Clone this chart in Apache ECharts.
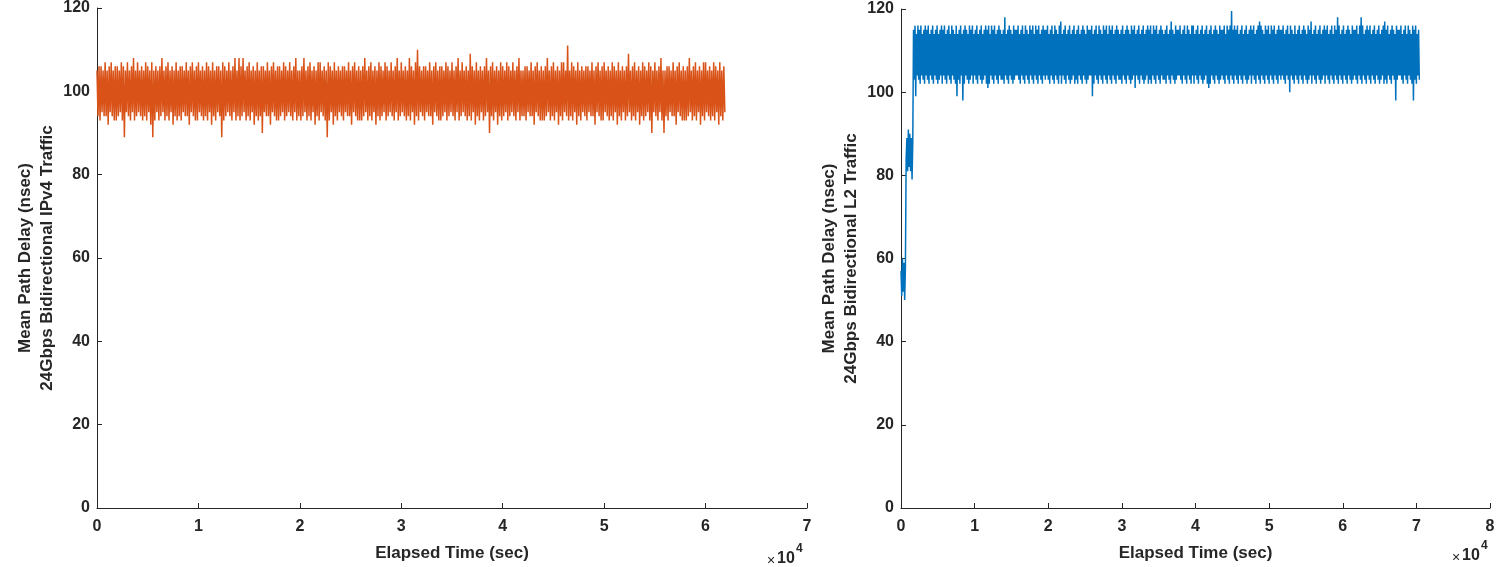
<!DOCTYPE html>
<html><head><meta charset="utf-8">
<script src="https://cdn.jsdelivr.net/npm/echarts@6/dist/echarts.min.js"></script>
<style>html,body{margin:0;padding:0;background:#fff}#c{width:1502px;height:567px}</style>
</head><body><div id="c"></div>
<script>
// sample spacing of the recorded delay measurements (seconds)
const sampleIntervalSec = 100;

// Left panel: 24Gbps bidirectional IPv4 traffic, mean path delay (nsec)
const ipv4Delay = [
105,94,106,93,106,95,105,94,107,94,105,92,106,95,107,94,105,93,106,93,
106,94,105,95,107,93,106,89,105,95,107,94,105,93,106,95,108,93,105,94,
107,95,105,94,106,93,105,94,107,93,106,95,105,92,107,89,105,93,106,95,
105,93,106,94,108,95,105,93,106,94,107,93,105,95,106,92,105,94,107,93,
105,94,106,93,106,95,105,94,107,94,105,92,106,95,107,94,105,93,106,93,
107,95,105,94,106,93,105,94,107,93,106,95,105,92,107,94,105,93,106,95,
106,94,105,89,107,93,106,94,105,95,107,94,105,93,106,95,108,93,105,94,
108,93,106,94,108,95,105,93,106,94,107,93,105,95,106,92,105,94,107,93,
105,94,106,90,106,95,105,94,107,94,105,92,106,95,107,94,105,93,106,93,
106,94,105,95,107,93,106,94,105,95,107,94,105,93,106,95,108,93,105,94,
105,93,106,94,108,95,105,93,106,94,107,93,105,95,106,92,105,94,107,93,
107,95,105,94,106,93,105,89,107,93,106,95,105,92,107,94,105,93,106,95,
105,94,106,93,106,95,105,94,107,94,105,92,106,95,107,94,105,93,106,93,
105,93,106,94,108,95,105,93,106,94,107,93,105,95,106,92,105,94,107,93,
106,94,105,95,107,93,106,94,105,95,107,94,105,93,106,95,108,93,105,94,
107,95,105,94,106,93,105,94,108,93,106,95,105,92,107,94,110,93,106,95,
105,94,106,93,106,95,105,94,107,94,105,92,106,95,107,94,105,93,106,93,
106,94,105,95,107,93,106,94,105,95,107,94,105,93,106,95,108,93,105,94,
107,95,105,94,106,93,105,94,109,93,106,95,105,92,107,94,105,93,106,95,
105,93,106,94,108,95,105,90,106,94,107,93,105,95,106,92,105,94,107,93,
106,94,105,95,107,93,106,94,105,95,107,94,105,93,106,95,108,93,105,94,
105,94,106,93,106,95,105,94,107,94,105,92,106,95,107,94,105,93,106,93,
105,93,106,94,108,95,105,93,106,94,107,93,105,95,106,92,105,94,107,93,
107,95,105,94,111,93,105,94,107,93,106,95,105,92,107,94,105,93,106,95,
105,94,106,93,106,95,105,94,107,94,105,92,106,95,107,94,105,93,106,93,
107,95,105,94,106,93,105,94,107,93,106,95,105,92,107,94,105,93,106,95,
105,93,106,94,109,95,105,93,106,94,107,93,105,95,106,92,105,94,107,93,
106,94,105,95,107,93,106,90,105,95,107,94,105,93,106,95,108,93,105,90,
105,94,106,93,106,95,105,94,107,94,105,92,106,95,107,94,105,93,106,93,
105,93,106,94,108,95,105,93,106,94,107,93,105,95,106,92,105,94,107,93,
107,95,105,94,106,93,105,94,107,93,106,95,105,92,107,94,105,93,106,95
];

// Right panel: 24Gbps bidirectional L2 traffic, mean path delay (nsec)
const l2Delay = [
57,51,60,52,59,50,58,
84,89,81,91,82,90,81,89,79,88,
115,103,116,99,114,104,116,103,115,102,116,104,114,103,115,102,116,104,115,103,
116,102,114,104,115,103,116,102,114,104,115,103,116,102,114,103,115,104,116,102,
115,104,116,103,114,102,115,104,116,103,114,102,116,104,115,103,114,102,116,99,
114,103,115,102,116,104,114,98,115,102,116,104,115,103,114,102,116,103,115,104,
116,102,114,104,115,103,116,102,114,104,115,103,116,102,114,103,115,104,116,102,
115,101,116,102,114,104,116,103,115,102,116,104,114,103,115,102,116,104,115,103,
114,103,115,102,118,104,114,103,115,102,116,104,115,103,114,102,116,103,115,104,
115,104,116,103,114,102,115,104,116,103,114,102,116,104,115,103,114,102,116,104,
115,103,116,102,114,104,116,103,115,102,116,104,114,103,115,102,116,104,115,103,
115,104,116,103,114,102,115,104,116,103,114,102,116,104,115,103,114,102,116,104,
117,102,114,104,115,103,116,102,114,104,115,103,116,102,114,103,115,104,116,102,
114,103,115,102,116,104,114,103,115,102,116,104,115,103,114,102,116,103,115,104,
115,104,116,99,114,102,115,104,116,103,114,102,116,104,115,103,114,102,116,104,
115,103,116,102,114,104,116,103,115,102,116,104,114,103,115,102,116,104,115,103,
114,103,115,102,116,104,114,103,115,102,116,104,115,103,114,102,116,103,115,104,
116,101,114,104,115,103,116,102,114,104,115,103,116,102,114,103,115,104,116,102,
115,103,116,102,114,104,116,103,115,102,116,104,114,103,115,102,116,104,115,103,
114,103,115,102,116,104,114,103,115,102,117,104,115,103,114,102,116,103,115,104,
115,104,116,103,114,102,115,104,116,103,114,102,116,104,115,103,114,102,116,104,
116,102,114,104,115,103,116,102,114,104,115,103,116,102,114,103,115,104,116,102,
114,101,115,102,116,104,114,103,115,102,116,104,115,103,114,102,116,103,115,104,
115,103,116,102,114,104,116,103,115,102,116,104,119.5,103,115,102,116,104,115,103,
116,102,114,104,115,103,116,102,114,104,115,103,116,102,114,103,115,104,116,102,
115,104,116,103,114,102,115,104,116,103,117,102,116,104,115,103,114,102,116,104,
115,103,116,102,114,104,116,103,115,102,116,104,114,103,115,102,116,104,115,103,
115,104,116,103,114,102,115,104,116,103,114,100,116,104,115,103,114,102,116,104,
114,103,115,102,116,104,114,103,115,102,116,104,115,103,114,102,116,103,115,104,
117,102,114,104,115,103,116,102,114,104,115,103,116,102,114,103,115,104,116,102,
115,104,116,103,114,102,115,104,116,103,114,102,116,104,115,103,118,102,116,104,
114,103,115,102,116,104,114,103,115,102,116,104,115,103,114,102,116,103,115,104,
115,103,116,102,114,104,116,103,118,102,116,104,114,103,115,102,116,104,115,103,
116,102,114,104,115,103,116,102,114,104,115,103,116,102,114,103,115,104,116,102,
117,103,115,102,116,104,114,103,115,102,116,104,115,103,114,98,116,103,115,104,
115,104,116,103,114,102,115,104,116,103,114,102,116,104,115,103,114,102,116,98,
115,103,116,102,114,104,115,103
];

const xAxisName = 'Elapsed Time (sec)';
const yNameLeft = 'Mean Path Delay (nsec)\n24Gbps Bidirectional IPv4 Traffic';
const yNameRight = 'Mean Path Delay (nsec)\n24Gbps Bidirectional L2 Traffic';
const xScale = 10000;

const toPairs = arr => arr.map((v, i) => [i * sampleIntervalSec, v]);

const FONT = '"Liberation Sans", Arial, Helvetica, sans-serif';
const AX = '#262626';

function xAxisCfg(idx, max) {
  return {
    type: 'value', gridIndex: idx, min: 0, max: max, interval: 10000,
    name: xAxisName, nameLocation: 'middle', nameGap: 37,
    nameTextStyle: {color: AX, fontSize: 17, fontWeight: 'bold', fontFamily: FONT},
    axisLine: {show: true, lineStyle: {color: AX, width: 1}},
    axisTick: {show: true, inside: true, length: 5, lineStyle: {color: AX}},
    axisLabel: {color: AX, fontSize: 16, fontWeight: 'bold', fontFamily: FONT, margin: 11,
      formatter: v => String(v / xScale)},
    splitLine: {show: false}
  };
}
function yAxisCfg(idx, name) {
  return {
    type: 'value', gridIndex: idx, min: 0, max: 120, interval: 20,
    name: name, nameLocation: 'middle', nameGap: 39, nameRotate: 90,
    nameTextStyle: {color: AX, fontSize: 17, fontWeight: 'bold', fontFamily: FONT, lineHeight: 22},
    axisLine: {show: true, lineStyle: {color: AX, width: 1}},
    axisTick: {show: true, inside: true, length: 5, lineStyle: {color: AX}},
    axisLabel: {color: AX, fontSize: 16, fontWeight: 'bold', fontFamily: FONT, margin: 7},
    splitLine: {show: false}
  };
}

const chart = echarts.init(document.getElementById('c'), null, {renderer: 'canvas'});
chart.setOption({
  animation: false,
  backgroundColor: '#ffffff',
  grid: [
    {left: 97, top: 8, width: 710, height: 507},
    {left: 901, top: 9, width: 589, height: 503}
  ],
  xAxis: [xAxisCfg(0, 70000), xAxisCfg(1, 80000)],
  yAxis: [yAxisCfg(0, yNameLeft), yAxisCfg(1, yNameRight)],
  series: [
    {type: 'line', xAxisIndex: 0, yAxisIndex: 0, data: toPairs(ipv4Delay),
     showSymbol: false, symbol: 'none',
     lineStyle: {color: '#D95319', width: 1.5, join: 'bevel'}, itemStyle: {color: '#D95319'}},
    {type: 'line', xAxisIndex: 1, yAxisIndex: 1, data: toPairs(l2Delay),
     showSymbol: false, symbol: 'none',
     lineStyle: {color: '#0072BD', width: 1.5, join: 'bevel'}, itemStyle: {color: '#0072BD'}}
  ],
  graphic: [
    {type: 'text', left: 767, top: 554, style: {text: '×', fill: AX, font: '14px ' + FONT}},
    {type: 'text', left: 777, top: 551, style: {text: '10', fill: AX, font: 'bold 16px ' + FONT}},
    {type: 'text', left: 796, top: 543, style: {text: '4', fill: AX, font: 'bold 12px ' + FONT}},
    {type: 'text', left: 1452, top: 551, style: {text: '×', fill: AX, font: '14px ' + FONT}},
    {type: 'text', left: 1462, top: 548, style: {text: '10', fill: AX, font: 'bold 16px ' + FONT}},
    {type: 'text', left: 1481, top: 540, style: {text: '4', fill: AX, font: 'bold 12px ' + FONT}}
  ]
});
</script>
</body></html>
